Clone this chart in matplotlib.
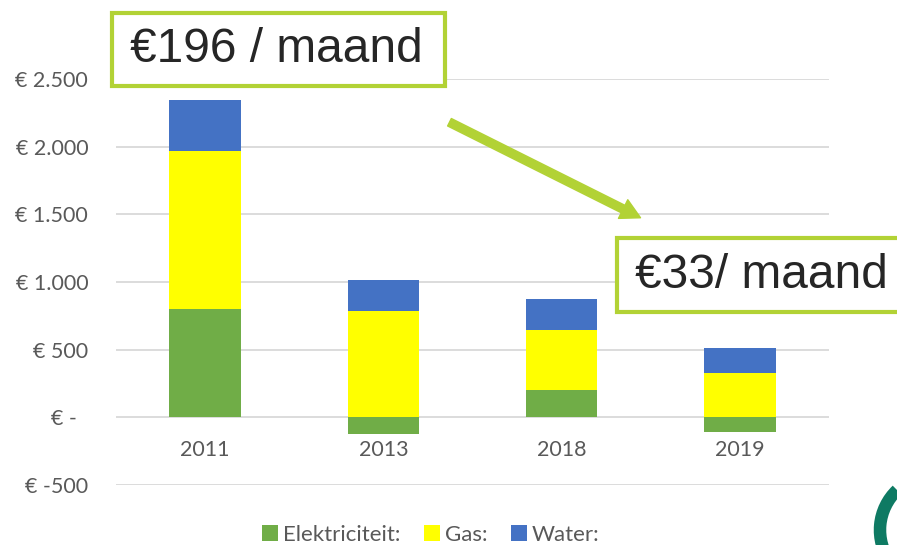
import numpy as np
import matplotlib.pyplot as plt
from matplotlib.patches import Rectangle, FancyArrowPatch, Arc

# data
years = ['2011', '2013', '2018', '2019']
elektriciteit = [800, -125, 201, -111]
gas = [1165, 785, 443, 325]
water = [377, 233, 234, 184]
series_names = ['Elektriciteit:', 'Gas:', 'Water:']
series_colors = ['#70AD47', '#FFFF00', '#4472C4']
yticks = [-500, 0, 500, 1000, 1500, 2000, 2500]

W, H = 897, 545
fig = plt.figure(figsize=(W / 100, H / 100), dpi=100)
fig.patch.set_facecolor('white')


def fx(x):
    return x / W


def fy(y):
    return 1 - y / H


ax = fig.add_axes([fx(116), fy(485), fx(829) - fx(116), fy(79) - fy(485)])

x = np.arange(len(years))
el = np.array(elektriciteit, dtype=float)
g = np.array(gas, dtype=float)
w = np.array(water, dtype=float)

# Excel-style stacking: negatives below 0, positives stacked from 0
pos_base = np.clip(el, 0, None)
bw = 0.40
b1 = ax.bar(x, el, bw, color=series_colors[0], zorder=3)
b2 = ax.bar(x, g, bw, bottom=pos_base, color=series_colors[1], zorder=3)
b3 = ax.bar(x, w, bw, bottom=pos_base + g, color=series_colors[2], zorder=3)

ax.set_xlim(-0.5, len(years) - 0.5)
ax.set_ylim(-500, 2500)
ax.set_yticks(yticks)


def euro(v):
    if v == 0:
        return '€ -  '
    s = f'{abs(int(v)):,}'.replace(',', '.')
    return f'€ -{s}' if v < 0 else f'€ {s}'


ax.set_yticklabels([euro(v) for v in yticks])
ax.grid(axis='y', color='#D9D9D9', linewidth=1.3, zorder=0)
for s in ['top', 'right', 'left']:
    ax.spines[s].set_visible(False)
ax.spines['bottom'].set_position(('data', 0))
ax.spines['bottom'].set_visible(False)
ax.set_xticks(x)
ax.set_xticklabels(years)
ax.tick_params(axis='y', length=0, pad=20, labelsize=15.5, labelcolor='#595959')
ax.tick_params(axis='x', length=0, pad=16, labelsize=15.5, labelcolor='#595959')
for lab in ax.get_xticklabels() + ax.get_yticklabels():
    lab.set_family(['Lato', 'DejaVu Sans'])

leg = fig.legend([b1, b2, b3], series_names, loc='center', bbox_to_anchor=(fx(431), fy(535)),
                 ncol=3, frameon=False, handlelength=0.7, handleheight=0.7,
                 handletextpad=0.25, columnspacing=1.05,
                 prop={'family': ['Lato', 'DejaVu Sans'], 'size': 16})
for t in leg.get_texts():
    t.set_color('#595959')

lime = '#B2D235'

# arrow
arr = FancyArrowPatch((fx(447), fy(121)), (fx(643), fy(219)), transform=fig.transFigure,
                      arrowstyle='simple,head_length=14,head_width=15,tail_width=6',
                      color=lime, mutation_scale=1, zorder=5)
fig.add_artist(arr)

# callout boxes
fig.add_artist(Rectangle((fx(112), fy(86)), fx(445) - fx(112), fy(13) - fy(86),
                         transform=fig.transFigure, facecolor='white', edgecolor=lime,
                         linewidth=3, zorder=6))
fig.text(fx(276), fy(50), '€196 / maand', ha='center', va='center', fontsize=34.5,
         color='#262626', family='Liberation Sans', zorder=7)

fig.add_artist(Rectangle((fx(617), fy(312)), fx(905) - fx(617), fy(238) - fy(312),
                         transform=fig.transFigure, facecolor='white', edgecolor=lime,
                         linewidth=3, zorder=6))
fig.text(fx(761), fy(275), '€33/ maand', ha='center', va='center', fontsize=34.5,
         color='#262626', family='Liberation Sans', zorder=7)

# partial logo in the corner
fig.add_artist(Arc((fx(935), fy(530)), fx(110), fy(0) - fy(110), theta1=120, theta2=230,
                   transform=fig.transFigure, color='#0E7A63', linewidth=9, zorder=4))

fig.savefig('out.png', dpi=100)
